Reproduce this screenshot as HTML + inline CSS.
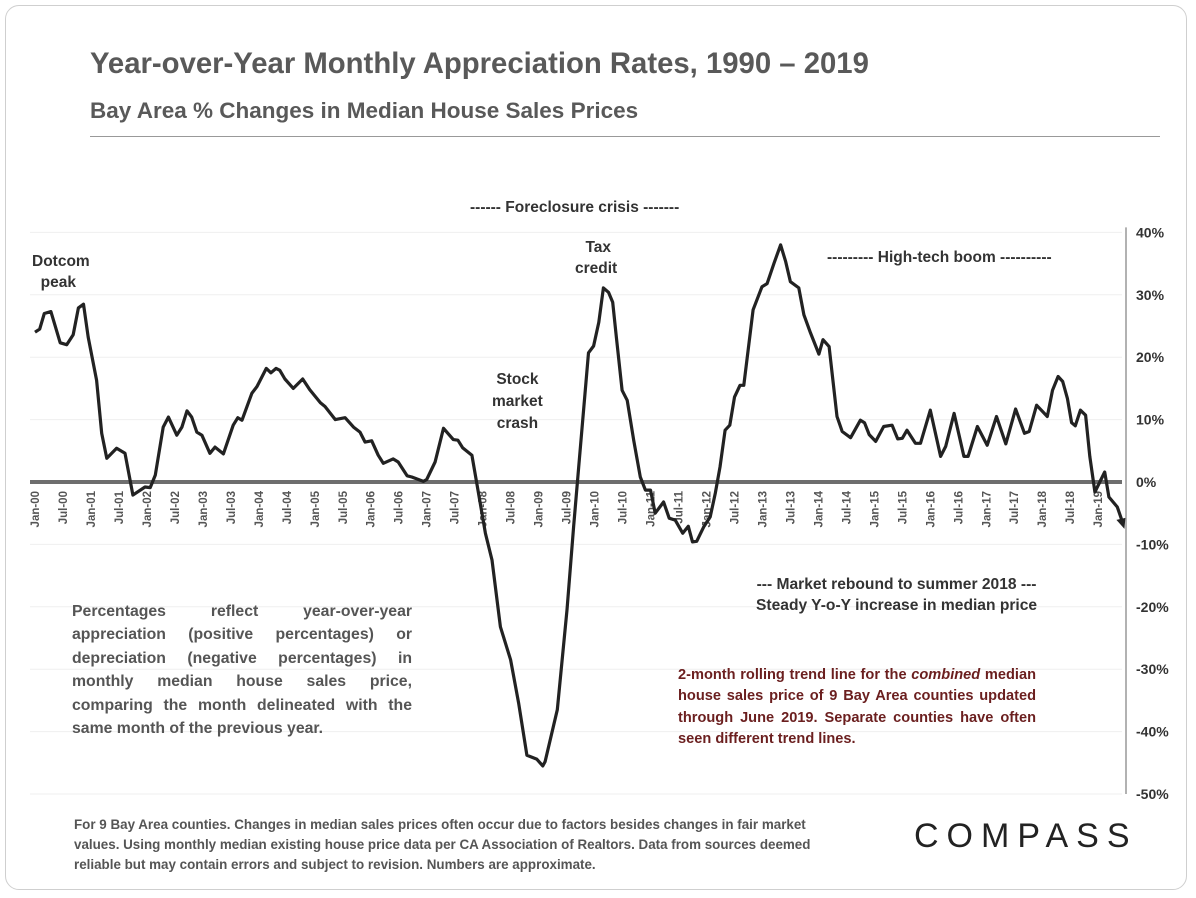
<!DOCTYPE html>
<html><head><meta charset="utf-8"><style>
body{margin:0;background:#fff;width:1196px;height:898px;overflow:hidden;font-family:"Liberation Sans",sans-serif}
.card{position:absolute;left:5px;top:5px;width:1182px;height:885px;border:1px solid #cfcfcf;border-radius:14px;box-sizing:border-box}
.t{position:absolute;color:#595959;font-weight:bold;white-space:nowrap}
</style></head><body>
<div class="card"></div>
<div class="t" style="left:90px;top:47px;font-size:29.3px">Year-over-Year Monthly Appreciation Rates, 1990 – 2019</div>
<div class="t" style="left:90px;top:98px;font-size:22.5px">Bay Area % Changes in Median House Sales Prices</div>
<div style="position:absolute;left:90px;top:136px;width:1070px;height:1px;background:#999"></div>
<svg id="chart" width="1196" height="898" style="position:absolute;left:0;top:0"></svg>
<div class="t" style="left:470px;top:199px;font-size:15.5px;color:#333">------ Foreclosure crisis -------</div>
<div class="t" style="left:32px;top:251px;font-size:15.5px;color:#333;line-height:21px">Dotcom<br>&nbsp;&nbsp;peak</div>
<div class="t" style="left:575px;top:237px;font-size:15.5px;color:#333;line-height:21px;text-align:center">&nbsp;Tax<br>credit</div>
<div class="t" style="left:492px;top:369px;font-size:15.5px;color:#333;line-height:22px;text-align:center">Stock<br>market<br>crash</div>
<div class="t" style="left:827px;top:249px;font-size:15.5px;color:#333">--------- High-tech boom ----------</div>
<div class="t" style="left:756px;top:574px;font-size:15.6px;color:#333;line-height:21px;text-align:center">--- Market rebound to summer 2018 ---<br>Steady Y-o-Y increase in median price</div>
<div class="t" style="left:72px;top:600px;width:340px;font-size:15.8px;line-height:23.4px;white-space:normal;text-align:justify;text-align-last:left;color:#555">Percentages reflect year-over-year appreciation (positive percentages) or depreciation (negative percentages) in monthly median house sales price, comparing the month delineated with the same month of the previous year.</div>
<div class="t" style="left:678px;top:665px;width:358px;font-size:14.6px;line-height:21.3px;white-space:normal;text-align:justify;text-align-last:left;color:#6b1f1f">2-month rolling trend line for the <i>combined</i> median house sales price of 9 Bay Area counties updated through June 2019. Separate counties have often seen different trend lines.</div>
<div class="t" style="left:74px;top:815px;width:762px;font-size:13.4px;line-height:20px;white-space:normal;color:#555">For 9 Bay Area counties. Changes in median sales prices often occur due to factors besides changes in fair market values. Using monthly median existing house price data per CA Association of Realtors. Data from sources deemed reliable but may contain errors and subject to revision. Numbers are approximate.</div>
<div style="position:absolute;left:914px;top:817px;font-size:34px;letter-spacing:8px;color:#222;font-family:'Liberation Sans',sans-serif">COMPASS</div>
<script>
const months=[0,1,2,3.4,5.4,6.8,8.2,9.3,10.4,11.4,13.2,14.3,15.4,17.5,19.3,21,23.6,24.7,25.8,27.5,28.6,30.4,31.5,32.6,33.6,34.7,35.8,37.5,38.6,40.4,42.5,43.5,44.4,46.5,47.6,49.6,50.6,51.7,52.5,53.6,55.4,57.4,58.9,61.2,62.2,64.4,66.5,68.3,69.7,70.8,72.2,73.6,74.7,76.8,77.9,79.8,80.8,83.3,84,85.8,87.6,89.7,90.7,91.7,93.7,94.8,96.6,98,99.8,102,103.7,105.5,107.6,108.9,109.4,112,114.1,115.5,116.6,118.7,119.8,120.9,121.9,123,123.9,124.7,125.9,127,128.4,129.8,130.9,132,133,134.8,136,137.3,138.9,140.1,141,141.9,143.4,144.8,145.9,146.9,148,149,150,151.2,152,154,155.9,157,158.5,159.9,161,162,163.8,164.9,166.3,168.1,169,170.3,172,173.1,174.9,177,177.9,178.9,180.3,182,183.8,185,186,187,188.8,189.9,192,194.2,195.3,197.1,199.2,200.1,202.1,204.2,206.2,208.2,210.3,212.2,213.2,214.8,217.1,218.2,219.4,220.4,221.4,222.3,223.1,224.2,225.3,226.2,227.3,229.4,230.3,232.1,233.2];
const values=[24,24.5,27,27.3,22.3,22,23.6,27.9,28.5,23.2,16.3,7.8,3.8,5.4,4.6,-2.1,-0.8,-0.9,1.1,8.8,10.4,7.5,8.8,11.4,10.4,8,7.5,4.6,5.6,4.5,9.1,10.3,9.9,14.2,15.3,18.2,17.5,18.2,17.9,16.5,15,16.5,14.8,12.7,12.1,10,10.3,8.8,8,6.4,6.6,4.3,3,3.7,3.2,1,0.8,0.1,0.4,3.2,8.6,6.8,6.7,5.5,4.3,-0.5,-8.2,-12.5,-23.2,-28.5,-35.4,-43.8,-44.4,-45.5,-44.8,-36.5,-20.5,-7.2,2.4,20.7,21.8,25.6,31.1,30.4,28.8,23,14.7,13.1,6.7,0.8,-1.3,-1.3,-5,-3.2,-5.8,-6.1,-8.2,-7.1,-9.6,-9.5,-7.2,-5.6,-1.8,2.4,8.3,9.1,13.6,15.5,15.5,27.6,31.3,31.8,35.1,38,35.3,32.1,31.1,26.8,23.9,20.5,22.8,21.7,10.5,8.1,7.1,9.9,9.5,7.6,6.5,8.9,9.1,6.9,7,8.3,6.2,6.2,11.5,4.1,5.7,11,4.1,4.1,8.9,5.9,10.5,6.1,11.7,7.8,8.1,12.3,10.5,14.7,16.9,16.1,13.4,9.5,9,11.5,10.7,4.1,-1.6,1.6,-2.4,-4,-6.4];
const yTicks=[40,30,20,10,0,-10,-20,-30,-40,-50];
const xLabels=["Jan-00","Jul-00","Jan-01","Jul-01","Jan-02","Jul-02","Jan-03","Jul-03","Jan-04","Jul-04","Jan-05","Jul-05","Jan-06","Jul-06","Jan-07","Jul-07","Jan-08","Jul-08","Jan-09","Jul-09","Jan-10","Jul-10","Jan-11","Jul-11","Jan-12","Jul-12","Jan-13","Jul-13","Jan-14","Jul-14","Jan-15","Jul-15","Jan-16","Jul-16","Jan-17","Jul-17","Jan-18","Jul-18","Jan-19"];
const NS="http://www.w3.org/2000/svg";
const svg=document.getElementById('chart');
const X=m=>35+m*4.663;
const Y=v=>482-v*6.24;
function mk(t,a){const e=document.createElementNS(NS,t);for(const k in a)e.setAttribute(k,a[k]);svg.appendChild(e);return e;}
yTicks.forEach(v=>{
  if(v!==0){const g=mk('line',{x1:30,x2:1122,y1:Y(v),y2:Y(v),stroke:'#efefef','stroke-width':1});
  
  }
  const t=mk('text',{x:1136,y:Y(v)+5,'font-size':14,'font-weight':'bold',fill:'#333','font-family':'Liberation Sans, sans-serif'});
  t.textContent=v+'%';
  
  
});
const ax=mk('line',{x1:1126,x2:1126,y1:Y(40)-5,y2:Y(-50),stroke:'#999','stroke-width':1.5});


const z=mk('line',{x1:30,x2:1122,y1:Y(0),y2:Y(0),stroke:'#6e6e6e','stroke-width':4});


xLabels.forEach((s,i)=>{
  const x=X(i*6)+4,y=491;
  const t=mk('text',{x:x,y:y,'font-size':11.5,'font-weight':'bold',fill:'#555','text-anchor':'end','font-family':'Liberation Sans, sans-serif',transform:`rotate(-90 ${x} ${y})`});
  t.textContent=s;
  
  
});
const d=months.map((m,i)=>(i?'L':'M')+X(m).toFixed(1)+' '+Y(values[i]).toFixed(1)).join(' ');
const p=mk('path',{d:d,fill:'none',stroke:'#222','stroke-width':3.2,'stroke-linejoin':'round'});


const n=months.length,ex=X(months[n-1]),ey=Y(values[n-1]);
const ah=mk('polygon',{points:`${ex+2},${ey+7} ${ex-6},${ey-2} ${ex+3},${ey-4}`,fill:'#222'});


</script>
</body></html>
